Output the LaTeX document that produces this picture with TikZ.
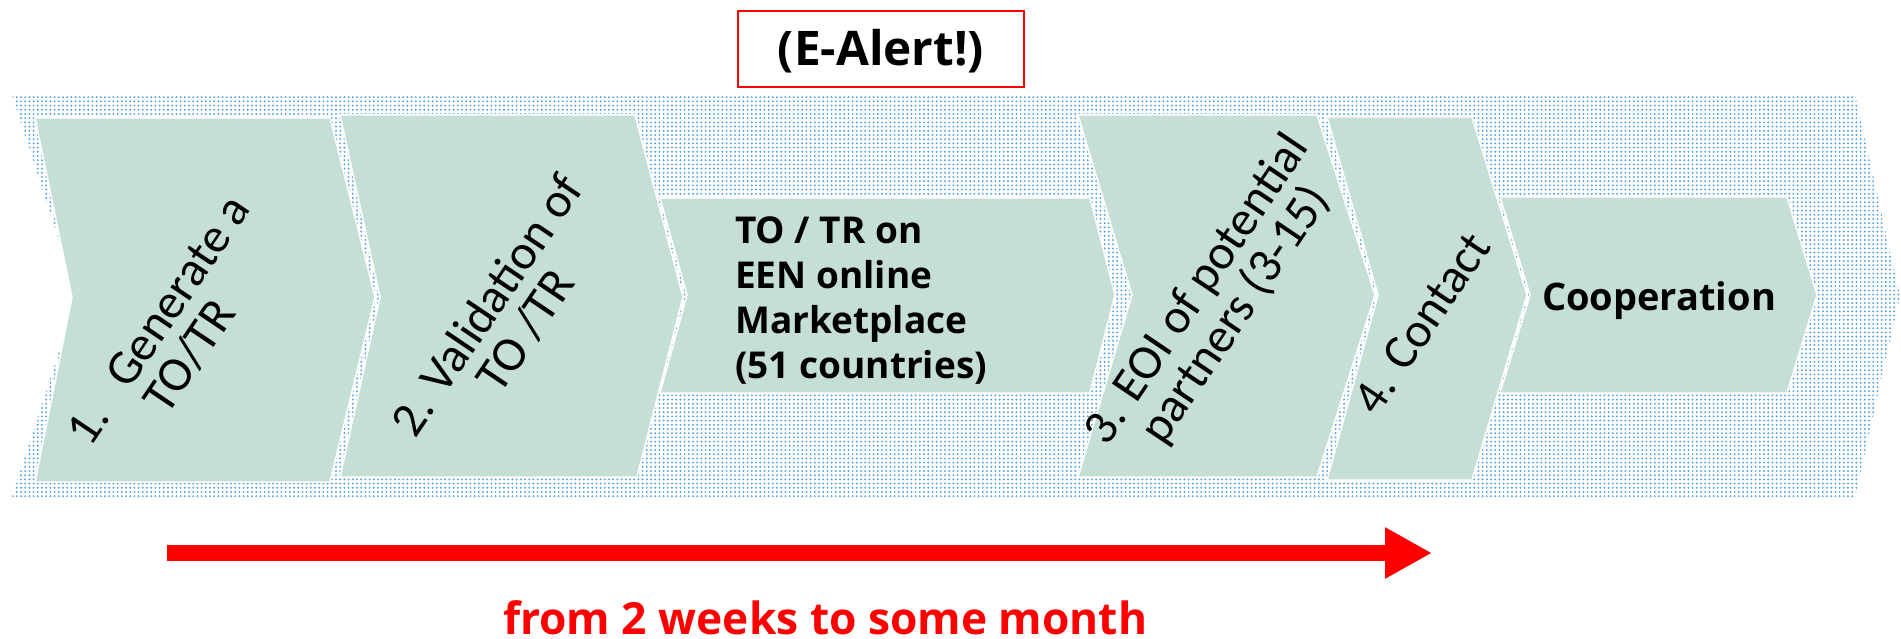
\documentclass[tikz,border=0pt]{standalone}
\usepackage{fontspec}
\setmainfont{Open Sans}
\newfontfamily\stepfont{Carlito}
\usetikzlibrary{arrows.meta,patterns.meta}

\definecolor{chevgreen}{RGB}{197,223,214}
\definecolor{dotblue}{RGB}{90,165,225}
\definecolor{alertred}{RGB}{255,0,0}

\tikzset{
  chev/.style={fill=chevgreen, draw=white, line width=1.5pt, line join=miter},
  steplabel/.style={font=\stepfont\fontsize{49}{46}\selectfont, rotate=56, align=center, inner sep=0pt},
  boxlabel/.style={font=\bfseries\fontsize{37}{45}\selectfont, align=left, inner sep=0pt},
}

\begin{document}
\begin{tikzpicture}[x=1pt,y=-1pt]
            % 1. FIXED FRAME
            \useasboundingbox (0,0) rectangle (1901,639);

            % --- BACKGROUND: LARGE DOTTED ARROW ---
            \path[pattern={Dots[distance=4.2pt,radius=1.1pt]}, pattern color=dotblue]
              (12,95) -- (1855,95) -- (1900,296) -- (1855,497) -- (12,497) -- (77,296) -- cycle;

            % --- STEPS (chevrons) ---
            \path[chev] (35,118) -- (330,118) -- (375,297) -- (330,482) -- (35,482) -- (72,297) -- cycle;
            \path[chev] (340,115) -- (635,115) -- (683,297) -- (637,477) -- (340,477) -- (380,297) -- cycle;
            \path[chev] (660,198) -- (1090,198) -- (1115,295) -- (1090,393) -- (660,393) -- (687,295) -- cycle;
            \path[chev] (1078,115) -- (1317,115) -- (1375,295) -- (1317,477) -- (1078,477) -- (1132,295) -- cycle;
            \path[chev] (1327,117) -- (1472,117) -- (1527,295) -- (1472,480) -- (1327,480) -- (1378,295) -- cycle;
            \path[chev] (1500,197) -- (1787,197) -- (1817,295) -- (1787,393) -- (1500,393) -- (1530,295) -- cycle;

            % --- STEP TEXTS ---
            \node[steplabel, align=left] (generate) at (178,333)
              {1.\hspace{32pt}Generate a\\\hphantom{1.}\hspace{32pt}TO/TR};
            \node[steplabel] (validation) at (506,318) {2. Validation of\\TO /TR};
            \node[boxlabel, anchor=west] (market) at (735,301)
              {TO / TR on\\EEN online\\Marketplace\\(51 countries)};
            \node[steplabel] (eoi) at (1217,303) {3. EOI of potential\\partners (3-15)};
            \node[steplabel] (contact) at (1422,323) {4. Contact};
            \node[font=\bfseries\fontsize{38}{45}\selectfont, anchor=base west, inner sep=0pt]
              (coop) at (1542,310) {Cooperation};

            % --- E-ALERT BOX ---
            \node[draw=alertred, line width=2pt, minimum width=286pt, minimum height=76pt,
                  text height=34pt, text depth=0pt, inner sep=0pt,
                  font=\bfseries\fontsize{47.7}{50}\selectfont] (alert) at (881,49) {(E-Alert!)};

            % --- DURATION ARROW ---
            \coordinate (tstart) at (167,553);
            \coordinate (tend) at (1432,553);
            \draw[alertred, line width=16pt, -{Triangle[length=47pt,width=48pt]}] (tstart) -- (tend);
            \node[font=\bfseries\fontsize{44.3}{50}\selectfont, text=alertred, anchor=base west, inner sep=0pt]
              (duration) at (503,634) {from 2 weeks to some month};

\end{tikzpicture}
\end{document}
